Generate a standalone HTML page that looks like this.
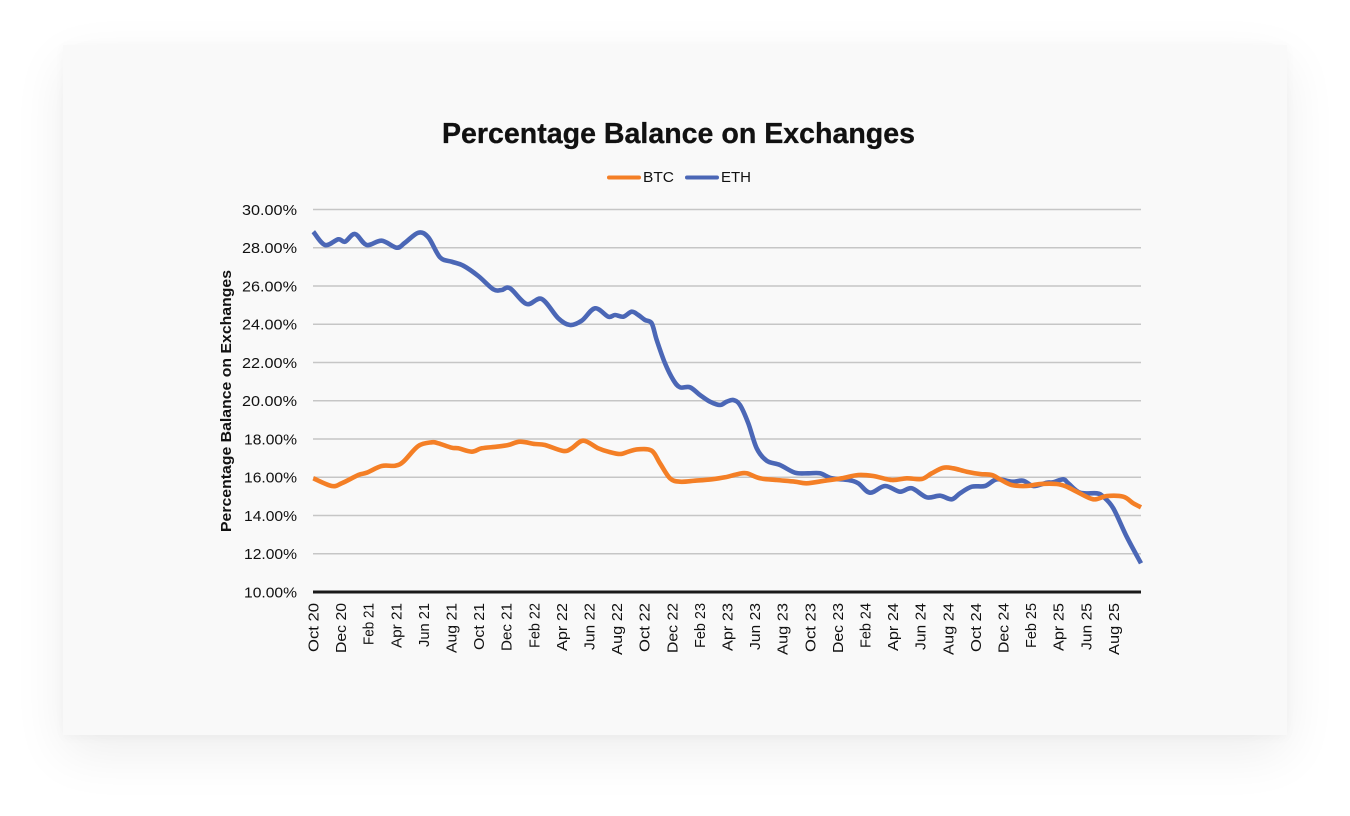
<!DOCTYPE html>
<html>
<head>
<meta charset="utf-8">
<style>
  html, body { margin:0; padding:0; background:#ffffff; }
  body { width:1350px; height:816px; position:relative; overflow:hidden; }
  .card {
    position:absolute; left:63px; top:45px; width:1224px; height:690px;
    background:#f9f9f9;
    box-shadow: 0 18px 50px rgba(0,0,0,0.07), 0 2px 10px rgba(0,0,0,0.03);
  }
  svg { position:absolute; left:0; top:0; }
  text { font-family:"Liberation Sans", Arial, sans-serif; fill:#111; }
</style>
</head>
<body>
<div class="card"></div>
<svg width="1350" height="816" viewBox="0 0 1350 816" xmlns="http://www.w3.org/2000/svg">
  <!-- Title -->
  <text x="678.5" y="143" text-anchor="middle" font-size="28.5" font-weight="bold" stroke="#111" stroke-width="0.3" textLength="473" lengthAdjust="spacingAndGlyphs">Percentage Balance on Exchanges</text>

  <!-- Legend -->
  <line x1="609" y1="177.5" x2="639" y2="177.5" stroke="#F47F26" stroke-width="4" stroke-linecap="round"/>
  <text x="643" y="182" font-size="15" fill="#222" textLength="31" lengthAdjust="spacingAndGlyphs">BTC</text>
  <line x1="687" y1="177.5" x2="717" y2="177.5" stroke="#4B67B6" stroke-width="4" stroke-linecap="round"/>
  <text x="721" y="182" font-size="15" fill="#222" textLength="30" lengthAdjust="spacingAndGlyphs">ETH</text>

  <!-- Gridlines -->
  <g stroke="#c6c6c6" stroke-width="1.6">
    <line x1="313" y1="209.5" x2="1141" y2="209.5"/>
    <line x1="313" y1="247.75" x2="1141" y2="247.75"/>
    <line x1="313" y1="286" x2="1141" y2="286"/>
    <line x1="313" y1="324.25" x2="1141" y2="324.25"/>
    <line x1="313" y1="362.5" x2="1141" y2="362.5"/>
    <line x1="313" y1="400.75" x2="1141" y2="400.75"/>
    <line x1="313" y1="439" x2="1141" y2="439"/>
    <line x1="313" y1="477.25" x2="1141" y2="477.25"/>
    <line x1="313" y1="515.5" x2="1141" y2="515.5"/>
    <line x1="313" y1="553.75" x2="1141" y2="553.75"/>
  </g>
  <line x1="313" y1="592" x2="1141" y2="592" stroke="#1a1a1a" stroke-width="3"/>

  <!-- Y labels -->
  <g font-size="15" text-anchor="end" fill="#222">
    <text x="297" y="214.8" textLength="55" lengthAdjust="spacingAndGlyphs">30.00%</text>
    <text x="297" y="253" textLength="55" lengthAdjust="spacingAndGlyphs">28.00%</text>
    <text x="297" y="291.3" textLength="55" lengthAdjust="spacingAndGlyphs">26.00%</text>
    <text x="297" y="329.5" textLength="55" lengthAdjust="spacingAndGlyphs">24.00%</text>
    <text x="297" y="367.8" textLength="55" lengthAdjust="spacingAndGlyphs">22.00%</text>
    <text x="297" y="406" textLength="55" lengthAdjust="spacingAndGlyphs">20.00%</text>
    <text x="297" y="444.3" textLength="53" lengthAdjust="spacingAndGlyphs">18.00%</text>
    <text x="297" y="482.5" textLength="53" lengthAdjust="spacingAndGlyphs">16.00%</text>
    <text x="297" y="520.8" textLength="53" lengthAdjust="spacingAndGlyphs">14.00%</text>
    <text x="297" y="559" textLength="53" lengthAdjust="spacingAndGlyphs">12.00%</text>
    <text x="297" y="597.3" textLength="53" lengthAdjust="spacingAndGlyphs">10.00%</text>
  </g>

  <!-- Y axis title -->
  <text x="0" y="0" transform="translate(231,401) rotate(-90)" text-anchor="middle" font-size="15" font-weight="bold" textLength="262" lengthAdjust="spacingAndGlyphs">Percentage Balance on Exchanges</text>

  <!-- X labels -->
  <g font-size="15" text-anchor="end" fill="#222">
    <text transform="translate(318.5,603) rotate(-90)" textLength="49" lengthAdjust="spacingAndGlyphs">Oct 20</text>
    <text transform="translate(346.1,603) rotate(-90)" textLength="50" lengthAdjust="spacingAndGlyphs">Dec 20</text>
    <text transform="translate(373.7,603) rotate(-90)" textLength="42" lengthAdjust="spacingAndGlyphs">Feb 21</text>
    <text transform="translate(401.3,603) rotate(-90)" textLength="45" lengthAdjust="spacingAndGlyphs">Apr 21</text>
    <text transform="translate(428.9,603) rotate(-90)" textLength="44" lengthAdjust="spacingAndGlyphs">Jun 21</text>
    <text transform="translate(456.5,603) rotate(-90)" textLength="50" lengthAdjust="spacingAndGlyphs">Aug 21</text>
    <text transform="translate(484.1,603) rotate(-90)" textLength="47" lengthAdjust="spacingAndGlyphs">Oct 21</text>
    <text transform="translate(511.7,603) rotate(-90)" textLength="48" lengthAdjust="spacingAndGlyphs">Dec 21</text>
    <text transform="translate(539.3,603) rotate(-90)" textLength="45" lengthAdjust="spacingAndGlyphs">Feb 22</text>
    <text transform="translate(566.9,603) rotate(-90)" textLength="48" lengthAdjust="spacingAndGlyphs">Apr 22</text>
    <text transform="translate(594.5,603) rotate(-90)" textLength="47" lengthAdjust="spacingAndGlyphs">Jun 22</text>
    <text transform="translate(622.1,603) rotate(-90)" textLength="52" lengthAdjust="spacingAndGlyphs">Aug 22</text>
    <text transform="translate(649.7,603) rotate(-90)" textLength="49" lengthAdjust="spacingAndGlyphs">Oct 22</text>
    <text transform="translate(677.3,603) rotate(-90)" textLength="50" lengthAdjust="spacingAndGlyphs">Dec 22</text>
    <text transform="translate(704.9,603) rotate(-90)" textLength="45" lengthAdjust="spacingAndGlyphs">Feb 23</text>
    <text transform="translate(732.5,603) rotate(-90)" textLength="48" lengthAdjust="spacingAndGlyphs">Apr 23</text>
    <text transform="translate(760.1,603) rotate(-90)" textLength="47" lengthAdjust="spacingAndGlyphs">Jun 23</text>
    <text transform="translate(787.7,603) rotate(-90)" textLength="52" lengthAdjust="spacingAndGlyphs">Aug 23</text>
    <text transform="translate(815.3,603) rotate(-90)" textLength="49" lengthAdjust="spacingAndGlyphs">Oct 23</text>
    <text transform="translate(842.9,603) rotate(-90)" textLength="50" lengthAdjust="spacingAndGlyphs">Dec 23</text>
    <text transform="translate(870.5,603) rotate(-90)" textLength="45" lengthAdjust="spacingAndGlyphs">Feb 24</text>
    <text transform="translate(898.1,603) rotate(-90)" textLength="48" lengthAdjust="spacingAndGlyphs">Apr 24</text>
    <text transform="translate(925.7,603) rotate(-90)" textLength="47" lengthAdjust="spacingAndGlyphs">Jun 24</text>
    <text transform="translate(953.3,603) rotate(-90)" textLength="52" lengthAdjust="spacingAndGlyphs">Aug 24</text>
    <text transform="translate(980.9,603) rotate(-90)" textLength="49" lengthAdjust="spacingAndGlyphs">Oct 24</text>
    <text transform="translate(1008.5,603) rotate(-90)" textLength="50" lengthAdjust="spacingAndGlyphs">Dec 24</text>
    <text transform="translate(1036.1,603) rotate(-90)" textLength="45" lengthAdjust="spacingAndGlyphs">Feb 25</text>
    <text transform="translate(1063.7,603) rotate(-90)" textLength="48" lengthAdjust="spacingAndGlyphs">Apr 25</text>
    <text transform="translate(1091.3,603) rotate(-90)" textLength="47" lengthAdjust="spacingAndGlyphs">Jun 25</text>
    <text transform="translate(1118.9,603) rotate(-90)" textLength="52" lengthAdjust="spacingAndGlyphs">Aug 25</text>
  </g>

  <!-- ETH series -->
  <polyline id="eth" fill="none" stroke="#4B67B6" stroke-width="4.6" stroke-linejoin="round" stroke-linecap="butt" points="313.3,231.7 325,245 338.3,239.3 345,241.7 355,234 366.7,245 381.7,240.7 396.7,247.7 405,242.7 418.3,232.7 428.3,237.3 440,257.3 451.7,261.7 463.3,265.7 478.3,276 493.3,289.3 501.7,290 510,288.3 526.7,304 541.7,299 558.3,318.3 570,325 581.7,320.7 595,308.3 608.3,316.7 615,315 623.3,316.7 631.7,311.7 638.3,315 645,320 651.7,323.3 656.7,340 665,363.3 673.3,380 680,387.3 690,387.3 700,395 710,401.7 720,405 726.7,401.7 733.3,400 740,405 748.3,423.3 756.7,448.3 766.7,460.7 780,465 795,472.7 808.3,473.3 820,473.3 831.7,478.3 848.3,480 858.3,483.3 870,492.7 885,486 900,491.7 911.7,488.3 926.7,497.3 940,495.7 951.7,499.3 960,493.3 971.7,486.7 985,486 996.7,479.3 1011.7,481.7 1023.3,480.7 1033.3,486 1046.7,482.7 1053.3,482.3 1063.3,479.3 1068.3,483.3 1080,492.7 1096.7,493.3 1103.3,496.7 1113.3,508.3 1126.7,536.7 1141,563.3"/>

  <!-- BTC series -->
  <polyline id="btc" fill="none" stroke="#F47F26" stroke-width="4.6" stroke-linejoin="round" stroke-linecap="butt" points="313.3,478.3 331.7,486 341.7,483.3 358.3,475 366.7,472.7 381.7,466 395,465.7 403.3,461.7 418.3,446 431.7,442.3 438.3,443.3 451.7,447.7 458.3,448.3 471.7,451.7 481.7,448.3 496.7,446.7 508.3,445 520,441.7 535,444 545,445 563.3,451 571.7,448.3 583.3,440.7 598.3,448.3 608.3,451.7 620,454 628.3,451.7 638.3,449.3 651.7,450.7 660,463.3 670,478.3 680,481.7 695,480.7 711.7,479.3 725,477.3 738.3,474 746.7,473.3 760,478.3 776.7,480 795,481.7 806.7,483.3 825,480.7 841.7,478.3 858.3,475 873.3,476 891.7,480 906.7,478.3 921.7,479 931.7,473.3 943.3,467.7 953.3,468.3 966.7,471.7 980,474 991.7,475 1000,479.3 1011.7,485 1026.7,486 1040,484 1056.7,484 1066.7,486.7 1076.7,491.7 1093.3,499.3 1106.7,496 1123.3,496.7 1133.3,503.3 1141,507.3"/>
</svg>
<script>
(function(){
  var NS = "http://www.w3.org/2000/svg";
  ["eth","btc"].forEach(function(id){
    var pl = document.getElementById(id);
    if(!pl) return;
    var pts = pl.getAttribute("points").trim().split(/\s+/).map(function(s){var a=s.split(",");return [parseFloat(a[0]),parseFloat(a[1])];});
    var d = "M" + pts[0][0] + "," + pts[0][1];
    var t = 0.5;
    for (var i=0;i<pts.length-1;i++){
      var p0 = pts[i-1]||pts[i], p1 = pts[i], p2 = pts[i+1], p3 = pts[i+2]||p2;
      var c1x = p1[0] + (p2[0]-p0[0])/6*t*2, c1y = p1[1] + (p2[1]-p0[1])/6*t*2;
      var c2x = p2[0] - (p3[0]-p1[0])/6*t*2, c2y = p2[1] - (p3[1]-p1[1])/6*t*2;
      d += " C" + c1x.toFixed(2)+","+c1y.toFixed(2)+" "+c2x.toFixed(2)+","+c2y.toFixed(2)+" "+p2[0]+","+p2[1];
    }
    var path = document.createElementNS(NS,"path");
    path.setAttribute("d", d);
    path.setAttribute("fill","none");
    path.setAttribute("stroke", pl.getAttribute("stroke"));
    path.setAttribute("stroke-width", pl.getAttribute("stroke-width"));
    path.setAttribute("stroke-linejoin","round");
    pl.parentNode.replaceChild(path, pl);
  });
})();
</script>
</body>
</html>
